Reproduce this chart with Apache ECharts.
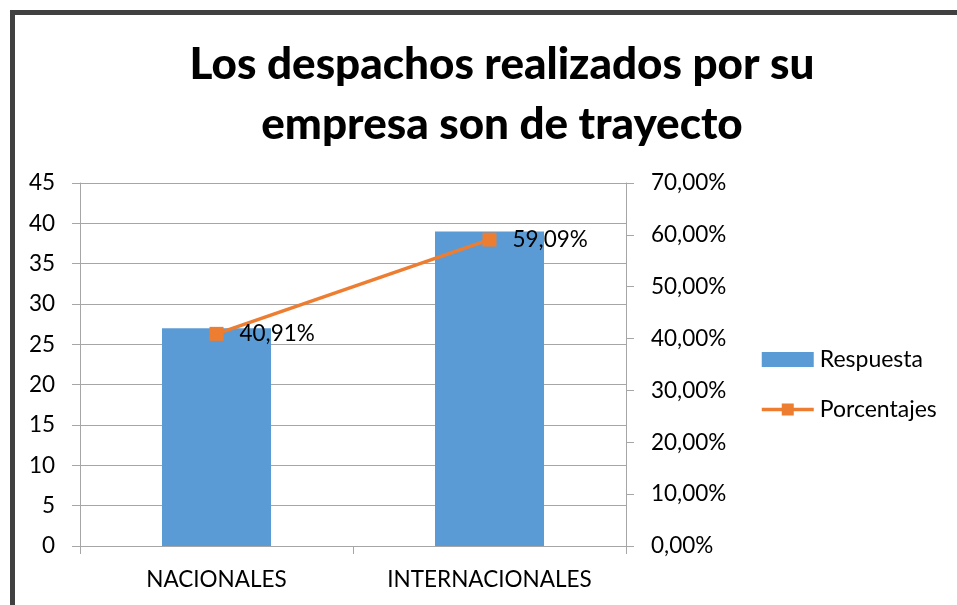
<!DOCTYPE html>
<html><head><meta charset="utf-8">
<script src="https://cdn.jsdelivr.net/npm/echarts@6/dist/echarts.min.js"></script>
<style>html,body{margin:0;padding:0;background:#fff}#c{width:957px;height:605px}</style>
</head><body><div id="c"></div>
<script>
var titleText = 'Los despachos realizados por su\nempresa son de trayecto';
var categories = ['NACIONALES', 'INTERNACIONALES'];
var respuesta = [27, 39];
var porcentajes = [0.4091, 0.5909];
var seriesNames = ['Respuesta', 'Porcentajes'];

function pct(v) { return (v * 100).toFixed(2).replace('.', ',') + '%'; }

var chart = echarts.init(document.getElementById('c'), null, {renderer: 'canvas'});
var font = 'Lato';
var fs = 22.5;
chart.setOption({
  animation: false,
  backgroundColor: '#fff',
  title: {
    text: titleText, left: 497, top: 30, textAlign: 'center',
    textStyle: {fontFamily: font, fontWeight: 900, fontSize: 44, lineHeight: 60, color: '#000'}
  },
  graphic: [{
    type: 'rect', shape: {x: 12.5, y: 12.5, width: 980, height: 640},
    style: {fill: 'none', stroke: '#404040', lineWidth: 5}
  }],
  legend: {
    orient: 'vertical', left: 760, top: 348, padding: 0, itemWidth: 52, itemHeight: 15, itemGap: 27,
    textStyle: {fontFamily: font, fontSize: 23, color: '#000', padding: [0, 0, 0, 1]},
    lineStyle: {width: 3.5},
    data: [{name: seriesNames[0], icon: 'rect'}, {name: seriesNames[1]}]
  },
  grid: {left: 80, right: 331, top: 183, bottom: 59, containLabel: false},
  xAxis: {
    type: 'category', data: categories,
    axisLine: {lineStyle: {color: '#A6A6A6', width: 1}},
    axisTick: {show: true, length: 8, lineStyle: {color: '#A6A6A6'}},
    axisLabel: {fontFamily: font, fontSize: fs, color: '#000', margin: 22}
  },
  yAxis: [{
    type: 'value', min: 0, max: 45, interval: 5,
    axisLine: {show: true, lineStyle: {color: '#A6A6A6'}},
    axisTick: {show: true, length: 8, lineStyle: {color: '#A6A6A6'}},
    splitLine: {lineStyle: {color: '#A6A6A6', width: 1}},
    axisLabel: {fontFamily: font, fontSize: fs, color: '#000', margin: 25}
  }, {
    type: 'value', min: 0, max: 0.7, interval: 0.1, position: 'right',
    axisLine: {show: true, lineStyle: {color: '#A6A6A6'}},
    axisTick: {show: true, length: 8, lineStyle: {color: '#A6A6A6'}},
    splitLine: {show: false},
    axisLabel: {fontFamily: font, fontSize: fs, color: '#000', margin: 25, formatter: pct}
  }],
  series: [{
    name: seriesNames[0], type: 'bar', data: respuesta, barWidth: 109,
    itemStyle: {color: '#5B9BD5'}, yAxisIndex: 0
  }, {
    name: seriesNames[1], type: 'line', data: porcentajes, yAxisIndex: 1,
    symbol: 'rect', symbolSize: 14,
    lineStyle: {color: '#ED7D31', width: 3.5},
    itemStyle: {color: '#ED7D31'},
    label: {show: true, position: 'right', distance: 16, fontFamily: font, fontSize: fs, color: '#000',
      formatter: function (p) { return pct(p.value); }}
  }]
});
</script></body></html>
